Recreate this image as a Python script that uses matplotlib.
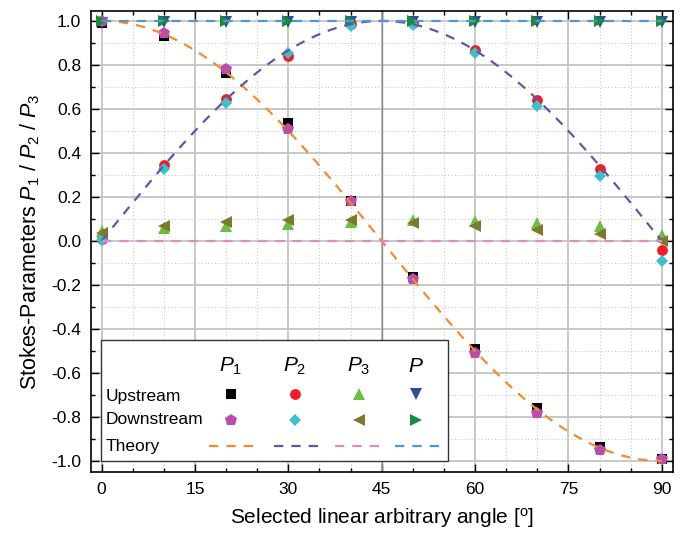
import numpy as np
import matplotlib
matplotlib.use("Agg")
import matplotlib.pyplot as plt
from matplotlib.lines import Line2D
from matplotlib.patches import Rectangle
from matplotlib.ticker import MultipleLocator, FormatStrFormatter

plt.rcParams['font.family'] = ['Liberation Sans', 'DejaVu Sans']
plt.rcParams['mathtext.fontset'] = 'custom'
plt.rcParams['mathtext.rm'] = 'Liberation Sans'
plt.rcParams['mathtext.it'] = 'Liberation Sans:italic'
plt.rcParams['axes.unicode_minus'] = False

# ---------------- data ----------------
angle = [0, 10, 20, 30, 40, 50, 60, 70, 80, 90]
p1_up = [0.99, 0.93, 0.765, 0.535, 0.18, -0.163, -0.493, -0.758, -0.935, -0.993]
p1_down = [1.0, 0.946, 0.78, 0.51, 0.18, -0.172, -0.511, -0.781, -0.948, -0.989]
p2_up = [0.01, 0.345, 0.643, 0.84, 0.985, 0.99, 0.87, 0.639, 0.328, -0.039]
p2_down = [0.005, 0.328, 0.625, 0.855, 0.976, 0.98, 0.852, 0.613, 0.293, -0.089]
p3_up = [0.045, 0.06, 0.067, 0.075, 0.085, 0.095, 0.09, 0.08, 0.067, 0.025]
p3_down = [0.034, 0.067, 0.085, 0.093, 0.095, 0.083, 0.067, 0.052, 0.03, 0.0]
p_up = [0.99, 0.997, 0.997, 0.997, 0.997, 0.997, 0.997, 0.997, 0.997, 0.997]
p_down = [0.998, 0.998, 0.998, 0.998, 0.998, 0.998, 0.998, 0.998, 0.998, 0.998]

# theory: fully linearly polarized light at the selected angle
theory_angle = np.linspace(0, 90, 181)
theory_p1 = np.cos(np.deg2rad(2 * theory_angle))
theory_p2 = np.sin(np.deg2rad(2 * theory_angle))
theory_p3 = np.zeros_like(theory_angle)
theory_p = np.ones_like(theory_angle)

x_ticks = [0, 15, 30, 45, 60, 75, 90]
y_ticks = [-1.0, -0.8, -0.6, -0.4, -0.2, 0.0, 0.2, 0.4, 0.6, 0.8, 1.0]
col_headers = [r'$\it{P}_{\it{1}}$', r'$\it{P}_{\it{2}}$', r'$\it{P}_{\it{3}}$', r'$\it{P}$']
row_labels = ['Upstream', 'Downstream', 'Theory']

# ---------------- styles ----------------
up_styles = [('s', '#000000', 6.8), ('o', '#ec1f28', 7.8), ('^', '#6cbd46', 8.0), ('v', '#2f4c9f', 8.0)]
down_styles = [('p', '#bb4fa8', 8.8), ('D', '#3cc0cc', 6.4), ('<', '#7d7a2e', 8.0), ('>', '#1b8a3d', 8.0)]
theory_colors = ['#f28c2c', '#6a52a3', '#d98ecb', '#4b9ad6']
dash = (4.2, 3.6)

fig = plt.figure(figsize=(6.83, 5.36), dpi=100)
ax = fig.add_axes([91 / 683, 1 - 472 / 536, 582 / 683, 461 / 536])

ups = [p1_up, p2_up, p3_up, p_up]
downs = [p1_down, p2_down, p3_down, p_down]
theories = [theory_p1, theory_p2, theory_p3, theory_p]

for ys, (m, c, s) in zip(ups, up_styles):
    ax.plot(angle, ys, linestyle='none', marker=m, color=c, markersize=s, markeredgewidth=0, zorder=3)
for ys, (m, c, s) in zip(downs, down_styles):
    ax.plot(angle, ys, linestyle='none', marker=m, color=c, markersize=s, markeredgewidth=0, zorder=4)
for ys, c in zip(theories, theory_colors):
    ax.plot(theory_angle, ys, color=c, lw=1.6, dashes=dash, zorder=5)

ax.set_xlim(-1.7, 91.8)
ax.set_ylim(-1.05, 1.045)
ax.set_xticks(x_ticks)
ax.set_yticks(y_ticks)
ax.xaxis.set_minor_locator(MultipleLocator(5))
ax.yaxis.set_minor_locator(MultipleLocator(0.1))
ax.yaxis.set_major_formatter(FormatStrFormatter('%.1f'))

ax.grid(which='major', color='#c4c4c4', lw=1.3, zorder=0)
ax.grid(which='minor', color='#c8c8c8', lw=0.8, linestyle=(0, (1, 2)), zorder=0)
ax.axvline(45, color='#8a8a8a', lw=1.0, zorder=1)
ax.set_axisbelow(True)

ax.tick_params(which='both', direction='in', top=True, right=True, colors='black', width=1.0)
ax.tick_params(which='major', length=6, labelsize=12.5, pad=7)
ax.tick_params(which='minor', length=3)
for sp in ax.spines.values():
    sp.set_linewidth(1.2)

ax.set_xlabel('Selected linear arbitrary angle [$^\\mathrm{o}$]', fontsize=15, labelpad=7)
ax.set_ylabel(r'Stokes-Parameters $\it{P}_{\rm 1}$ / $\it{P}_{\rm 2}$ / $\it{P}_{\rm 3}$', fontsize=15.5, labelpad=7)

# ---------------- table-like legend ----------------
def A(px, py):
    return ((px - 91) / 582, (472 - py) / 461)

x0, y0 = A(101, 461)
x1, y1 = A(448, 340)
ax.add_patch(Rectangle((x0, y0), x1 - x0, y1 - y0, transform=ax.transAxes,
                       facecolor='white', edgecolor='#333333', lw=1.0, zorder=10))
col_x = [231, 295, 359, 416]
for cx, h in zip(col_x, col_headers):
    ax.text(*A(cx, 366), h, transform=ax.transAxes, fontsize=15, ha='center', va='center', zorder=11)
row_y = [396, 420, 446]
for ry, lab in zip(row_y, row_labels):
    ax.text(*A(106, ry), lab, transform=ax.transAxes, fontsize=12.5, ha='left', va='center', zorder=11)
for cx, (m, c, s) in zip(col_x, up_styles):
    ax.add_line(Line2D([A(cx, 394)[0]], [A(cx, 394)[1]], transform=ax.transAxes, marker=m, color=c,
                       markersize=s, markeredgewidth=0, linestyle='none', zorder=11))
for cx, (m, c, s) in zip(col_x, down_styles):
    ax.add_line(Line2D([A(cx, 420)[0]], [A(cx, 420)[1]], transform=ax.transAxes, marker=m, color=c,
                       markersize=s, markeredgewidth=0, linestyle='none', zorder=11))
seg = [(209, 257), (274, 322), (335, 383), (395, 445)]
for (sx0, sx1), c in zip(seg, theory_colors):
    ax.add_line(Line2D([A(sx0, 446)[0], A(sx1, 446)[0]], [A(sx0, 446)[1], A(sx1, 446)[1]],
                       transform=ax.transAxes, color=c, lw=1.6, dashes=dash, zorder=11))

fig.savefig('out.png', dpi=100)
